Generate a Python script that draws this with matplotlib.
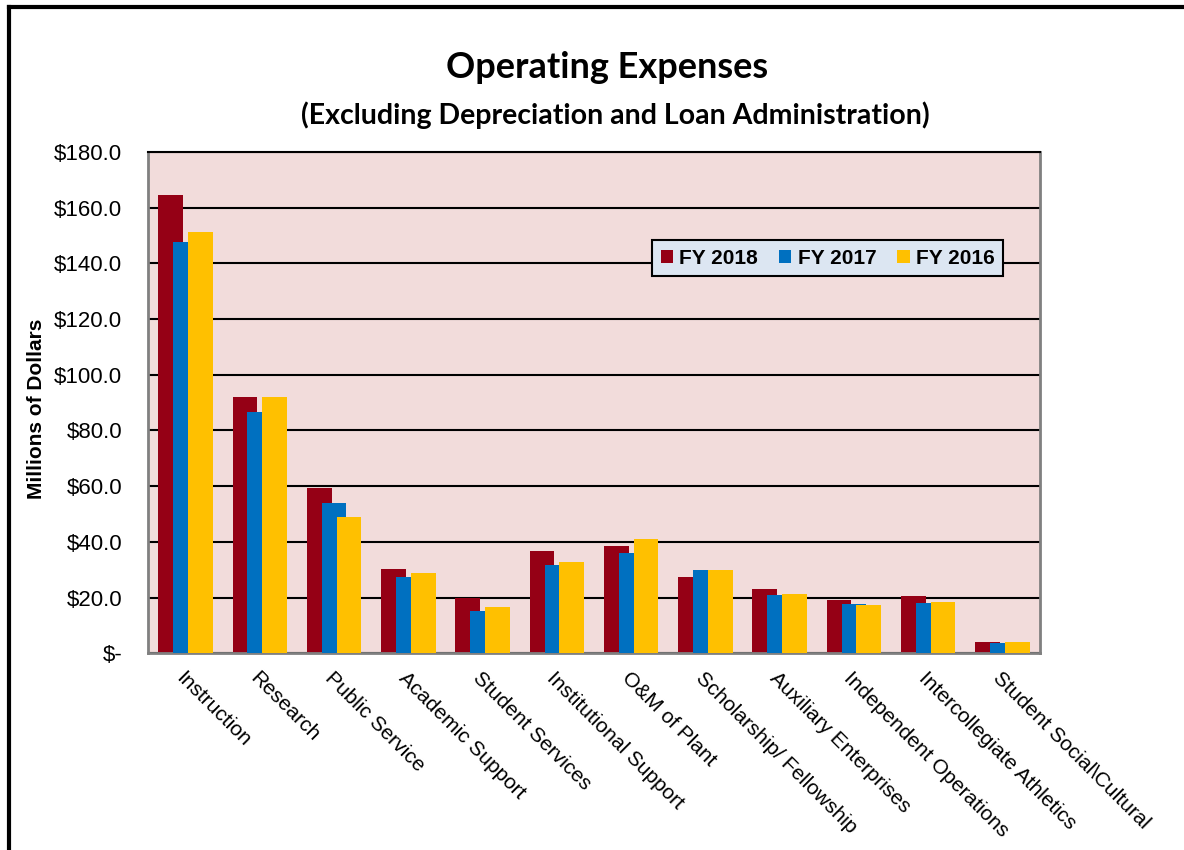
import numpy as np
import matplotlib.pyplot as plt
from matplotlib.lines import Line2D

categories = ['Instruction', 'Research', 'Public Service', 'Academic Support',
              'Student Services', 'Institutional Support', 'O&M of Plant',
              'Scholarship/ Fellowship', 'Auxiliary Enterprises',
              'Independent Operations', 'Intercollegiate Athletics',
              'Student Social\\Cultural']
fy2018 = [164.5, 92.2, 59.5, 30.1, 19.7, 36.9, 38.4, 27.3, 23.0, 19.3, 20.4, 4.1]
fy2017 = [147.5, 86.5, 53.9, 27.5, 15.3, 31.6, 35.9, 29.9, 21.1, 17.7, 17.9, 3.7]
fy2016 = [151.2, 92.0, 49.1, 29.0, 16.8, 32.7, 41.0, 29.9, 21.4, 17.3, 18.6, 4.1]
series_names = ['FY 2018', 'FY 2017', 'FY 2016']
yticks = [0, 20, 40, 60, 80, 100, 120, 140, 160, 180]

colors = ['#950015', '#0070C0', '#FFC000']

plt.rcParams['font.family'] = ['Liberation Sans', 'DejaVu Sans']

fig = plt.figure(figsize=(11.84, 8.5), dpi=100)
ax = fig.add_axes([0.1254, 0.2314, 0.7526, 0.5898])

x = np.arange(len(categories))
w = 0.333
for i, vals in enumerate([fy2018, fy2017, fy2016]):
    ax.bar(x + (i - 1) * 0.2, vals, width=w, color=colors[i], label=series_names[i], zorder=2 + i)

ax.set_facecolor('#F2DCDB')
ax.set_xlim(-0.5, len(categories) - 0.5)
ax.set_ylim(0, 180)
ax.set_yticks(yticks)
ax.set_yticklabels(['$-' if v == 0 else '${:.1f}'.format(v) for v in yticks], fontsize=16)
ax.yaxis.grid(True, color='black', linewidth=1.5)
ax.set_axisbelow(True)
ax.tick_params(axis='y', length=0, pad=19)

ax.set_xticks(x)
ax.set_xticklabels(categories, rotation=-45, ha='left', va='top', rotation_mode='anchor', fontsize=15)
ax.tick_params(axis='x', length=0, pad=11)

for side in ['left', 'right', 'bottom']:
    ax.spines[side].set_color('#808080')
    ax.spines[side].set_linewidth(2)
ax.spines['top'].set_color('black')
ax.spines['top'].set_linewidth(1.5)

ax.set_ylabel('Millions of Dollars', fontsize=15, fontweight='bold')
ax.yaxis.set_label_coords(-0.115, 0.487)

leg = ax.legend(loc='upper right', bbox_to_anchor=(0.959, 0.824), ncol=3, frameon=True,
                fancybox=False, edgecolor='black', facecolor='#DCE6F2', framealpha=1,
                prop={'weight': 'bold', 'size': 15}, handlelength=0.6, handleheight=0.6,
                handletextpad=0.3, columnspacing=1.0, borderaxespad=0, borderpad=0.4)
leg.get_frame().set_linewidth(1.5)

fig.text(0.513, 0.921, 'Operating Expenses', ha='center', va='center',
         fontsize=26, fontweight='bold', family='Lato')
fig.text(0.52, 0.864, '(Excluding Depreciation and Loan Administration)', ha='center', va='center',
         fontsize=20.5, fontweight='bold', family='Lato')

# outer frame
fig.add_artist(Line2D([9 / 1184, 9 / 1184], [0, 1 - 7 / 850], color='black', linewidth=3))
fig.add_artist(Line2D([9 / 1184, 1], [1 - 7 / 850, 1 - 7 / 850], color='black', linewidth=3))

fig.savefig('out.png', dpi=100)
